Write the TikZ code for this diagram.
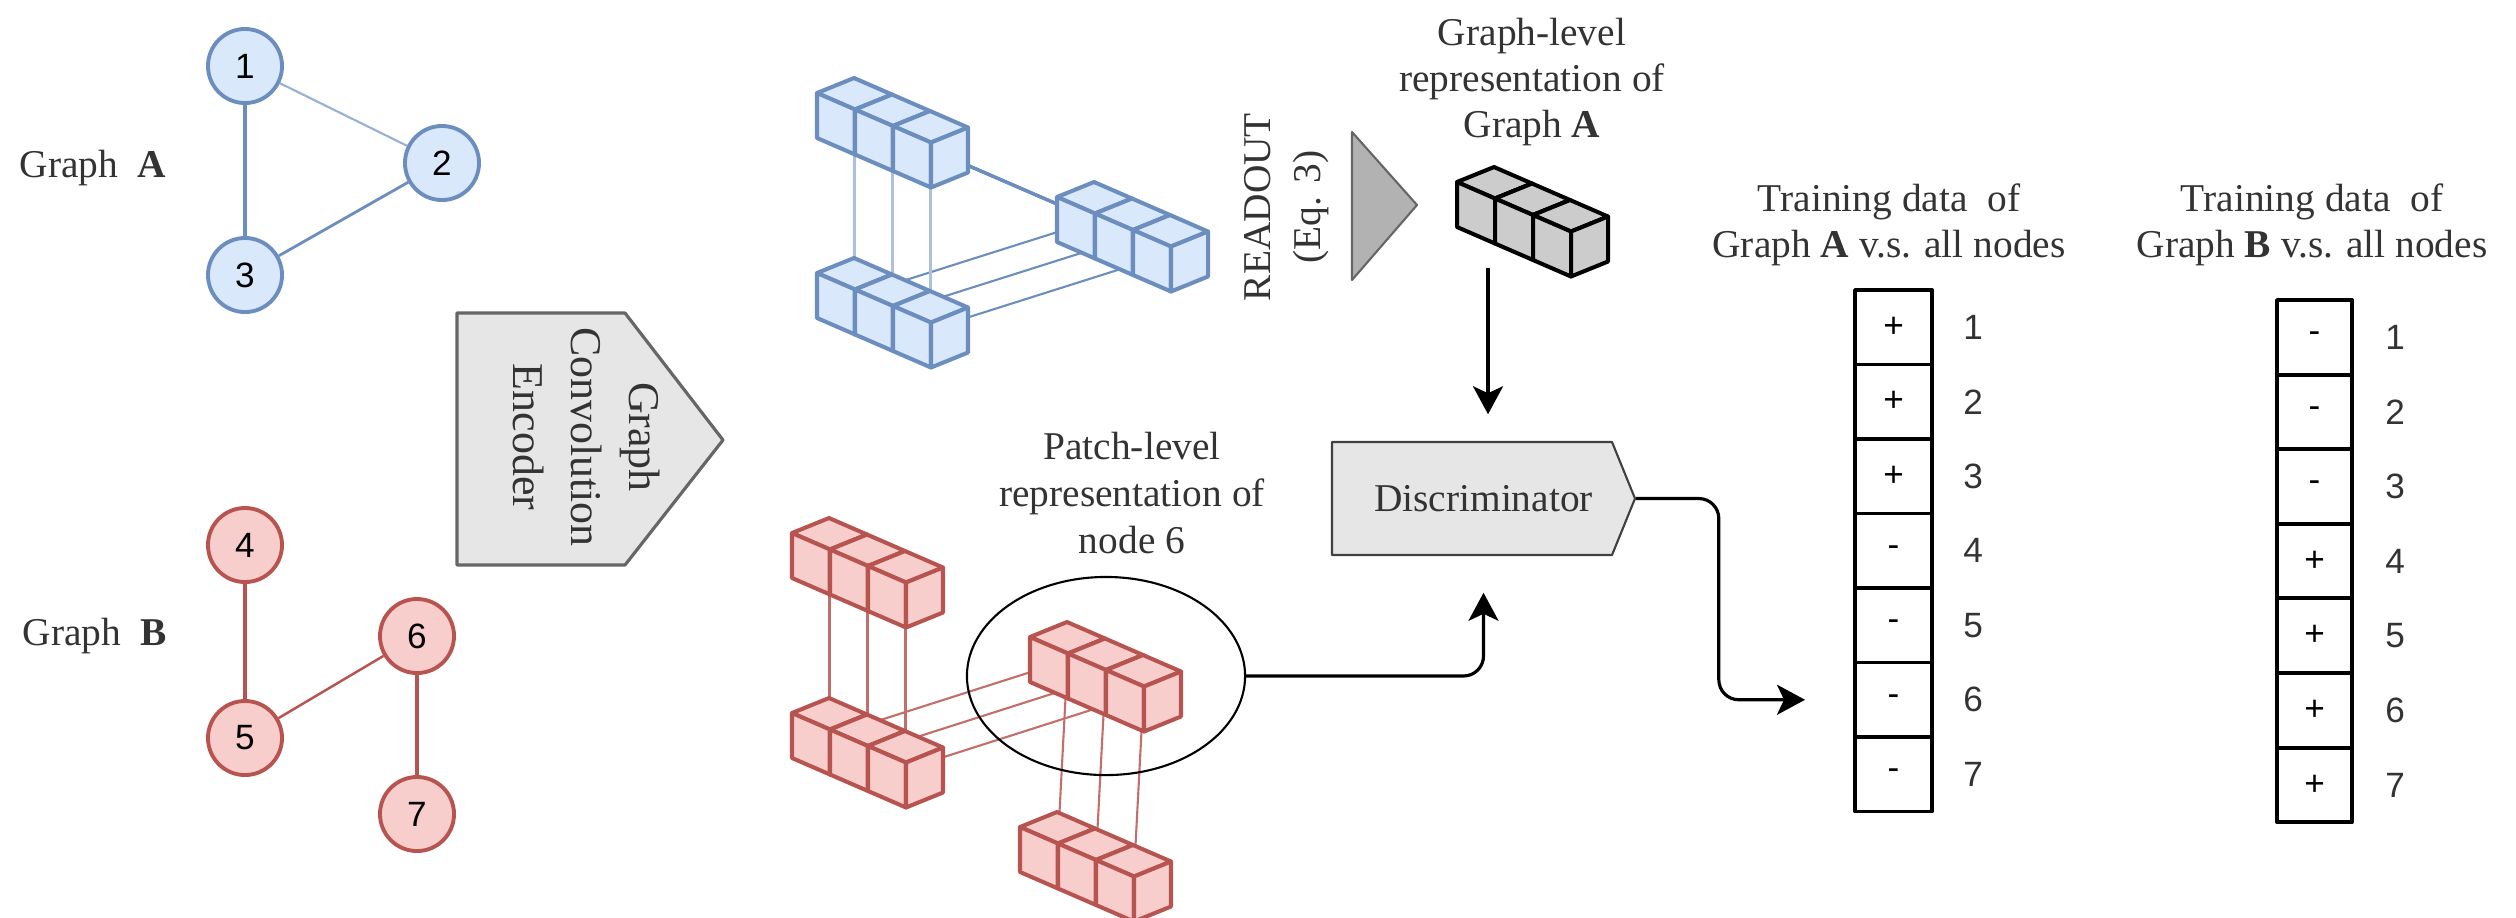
\documentclass[tikz,border=0pt]{standalone}
\usepackage{fontspec}
\setmainfont{Liberation Serif}
\newfontfamily\numfont{Liberation Sans}
\usetikzlibrary{arrows.meta,shapes.geometric}
\pgfdeclarelayer{background}
\pgfsetlayers{background,main}

\definecolor{bluefill}{HTML}{DAE8FC}
\definecolor{blueline}{HTML}{6C8EBF}
\definecolor{redfill}{HTML}{F8CECC}
\definecolor{redline}{HTML}{B85450}
\definecolor{boxgray}{HTML}{E6E6E6}
\definecolor{edgegray}{HTML}{666666}
\definecolor{txt}{HTML}{333333}

% three cubes in a row: name, x, y, style
\newcommand{\cuberow}[4]{
	\begin{scope}[shift={(#2,#3)}]
		\foreach \k in {0,1,2}{
			\draw[#4] ({38*\k},{16.5*\k}) -- ++(37,-15) -- ++(38,16.5) -- ++(-37,15) -- cycle;
			\draw[#4] ({38*\k},{16.5*\k}) -- ++(38,16.5) -- ++(0,45) -- ++(-38,-16.5) -- cycle;
			\draw[#4] ({38*\k+38},{16.5*\k+16.5}) -- ++(37,-15) -- ++(0,45) -- ++(-37,15) -- cycle;
			\coordinate (#1-\k) at ({38*\k+37.5},{16.5*\k+23.25});
		}
	\end{scope}
}

\begin{document}
\begin{tikzpicture}[x=0.01cm,y=-0.01cm,line join=round,
	lbl/.style={font=\fontsize{11.2}{13}\selectfont,text=txt,align=center},
	bnode/.style={circle,draw=blueline,fill=bluefill,line width=1.1pt,minimum size=0.74cm,inner sep=0pt,font=\numfont},
	rnode/.style={bnode,draw=redline,fill=redfill},
	bcube/.style={draw=blueline,fill=bluefill,line width=1.15pt},
	rcube/.style={draw=redline,fill=redfill,line width=1.15pt},
	gcube/.style={draw=black,fill=black!20,line width=1.15pt},
	blink/.style={blueline,line width=0.6pt},
	rlink/.style={redline!85,line width=0.6pt},
	arr/.style={line width=0.9pt,-{Stealth[length=0.28cm,width=0.3cm,inset=0.07cm]}},
	cell/.style={draw=black,line width=1.1pt,minimum width=0.77cm,minimum height=0.745cm,inner sep=0pt,font=\numfont},
	num/.style={font=\numfont,text=txt}]
	\useasboundingbox (0,0) rectangle (2516,917);

	% graph A
	\node[lbl] (ga) at (93,168) {Graph\ \ \textbf{A}};
	\node[bnode] (n1) at (245,66) {1};
	\node[bnode] (n2) at (442,163) {2};
	\node[bnode] (n3) at (245,275) {3};
	\draw[blueline!70,line width=0.6pt] (n1) -- (n2);
	\draw[blueline,line width=1pt] (n1) -- (n3);
	\draw[blueline,line width=0.8pt] (n2) -- (n3);

	% graph B
	\node[lbl] (gb) at (95,636) {Graph\ \ \textbf{B}};
	\node[rnode] (n4) at (245,545) {4};
	\node[rnode] (n5) at (245,738) {5};
	\node[rnode] (n6) at (417,636) {6};
	\node[rnode] (n7) at (417,814) {7};
	\draw[redline,line width=1pt] (n4) -- (n5);
	\draw[redline,line width=0.7pt] (n5) -- (n6);
	\draw[redline,line width=0.9pt] (n6) -- (n7);

	% encoder
	\draw[fill=boxgray,draw=edgegray,line width=0.9pt] (457,313) -- (625,313) -- (723,440) -- (625,565) -- (457,565) -- cycle;
	\node[lbl,font=\fontsize{12.5}{16.5}\selectfont,rotate=-90] (enc) at (587,437) {Graph\\Convolution\\Encoder};

	% node embeddings of graph A
	\cuberow{b1}{817}{93}{bcube}
	\cuberow{b3}{817}{273}{bcube}
	\cuberow{b2}{1057}{197}{bcube}
	% node embeddings of graph B
	\cuberow{r4}{792}{533}{rcube}
	\cuberow{r5}{792}{713}{rcube}
	\cuberow{r6}{1030}{637}{rcube}
	\cuberow{r7}{1020}{827}{rcube}
	\begin{pgfonlayer}{background}
		\foreach \k in {0,1,2}{
			\draw[blink,blueline!55,line width=0.7pt] (b1-\k) -- (b3-\k);
			\draw[blink] (b3-\k) -- (b2-\k);
			\draw[blink,line width=0.9pt] (b1-\k) -- (b2-\k);
			\draw[rlink] (r4-\k) -- (r5-\k);
			\draw[rlink] (r5-\k) -- (r6-\k);
			\draw[rlink] (r6-\k) -- (r7-\k);
		}
	\end{pgfonlayer}
	\node[draw,ellipse,line width=0.6pt,minimum width=2.78cm,minimum height=1.98cm] (patch) at (1106,676) {};
	\node[lbl,font=\fontsize{11.2}{13.4}\selectfont] (ptext) at (1132,493) {Patch-level\\representation of\\node 6};

	% readout
	\draw[fill=black!30,draw=edgegray,line width=0.6pt] (1352,132) -- (1417,205) -- (1352,280) -- cycle;
	\node[lbl,font=\fontsize{11.2}{14.2}\selectfont,rotate=90] (rd) at (1287,207) {READOUT\\(Eq. 3)};
	\cuberow{g}{1457}{182}{gcube}
	\node[lbl] (gtext) at (1532,82) {Graph-level\\representation of\\Graph \textbf{A}};
	\coordinate (gtail) at (1488,268);

	% discriminator
	\draw[fill=boxgray,draw=black!75,line width=0.6pt] (1332,442) -- (1612,442) -- (1635,498.5) -- (1612,555) -- (1332,555) -- cycle;
	\node[lbl,minimum width=3.03cm,minimum height=1.13cm,inner sep=0pt] (disc) at (1483.5,498.5) {Discriminator};
	\draw[arr,shorten >=0.27cm] (gtail) -- (gtail |- disc.north);
	\draw[arr,rounded corners=0.2cm,shorten >=0.37cm] (patch.east) -| (disc.south);

	% training data
	\node[lbl] (ha) at (1889,225) {Training data\ \ of\\Graph \textbf{A} v.s. all nodes};
	\node[lbl] (hb) at (2312,225) {Training data\ \ of\\Graph \textbf{B} v.s. all nodes};
	\foreach \i/\s in {1/+,2/+,3/+,4/-,5/-,6/-,7/-}{
		\node[cell] (a\i) at (1893.5,{290+74.5*(\i-0.5)}) {\s};
		\node[num] (na\i) at (1973,{290+74.5*(\i-0.5)}) {\i};
	}
	\foreach \i/\s in {1/-,2/-,3/-,4/+,5/+,6/+,7/+}{
		\node[cell,minimum width=0.75cm] (b\i) at (2314.5,{300+74.6*(\i-0.5)}) {\s};
		\node[num] (nb\i) at (2395,{300+74.6*(\i-0.5)}) {\i};
	}
	\draw[arr,rounded corners=0.2cm] (disc.east) -- ++(83,0) |- ([xshift=-0.48cm]a6.west);
\end{tikzpicture}
\end{document}
